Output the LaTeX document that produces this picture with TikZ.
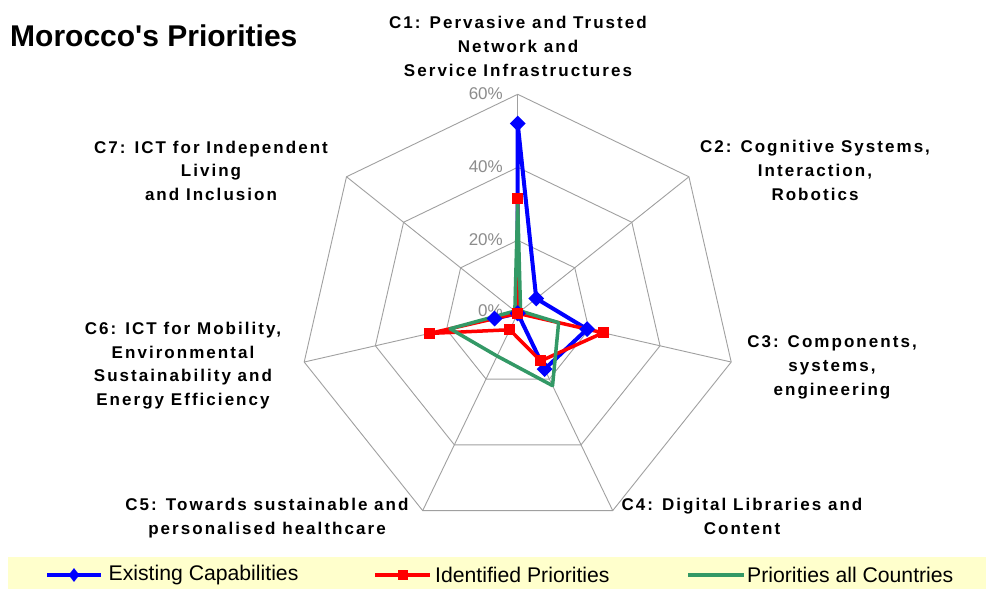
\documentclass[tikz,border=0pt]{standalone}
\usepackage{fontspec}
\setmainfont{Liberation Sans}
\newfontfamily\lblfont[LetterSpace=12]{Liberation Sans}
\usetikzlibrary{shapes.geometric}
\definecolor{serblue}{HTML}{0000FF}
\definecolor{serred}{HTML}{FF0000}
\definecolor{sergreen}{HTML}{339966}
\definecolor{gridgray}{HTML}{A0A0A0}
\definecolor{pctgray}{HTML}{8C8C8C}
\definecolor{legbg}{HTML}{FFFFCC}
\begin{document}
\begin{tikzpicture}[x=1pt,y=-1pt,
  cat/.style={font=\lblfont\bfseries\fontsize{17}{23.7}\selectfont, align=center, anchor=base, inner sep=0pt},
  pct/.style={font=\fontsize{17}{20}\selectfont, text=pctgray, anchor=east, inner sep=0pt},
  gridline/.style={draw=gridgray, line width=0.9pt},
  bluser/.style={draw=serblue, line width=4pt, line join=round},
  redser/.style={draw=serred, line width=3.5pt, line join=round},
  grnser/.style={draw=sergreen, line width=3.5pt, line join=round},
  bmark/.style={diamond, fill=serblue, inner sep=0pt, minimum width=16pt, minimum height=16pt},
  rmark/.style={rectangle, fill=serred, inner sep=0pt, minimum size=11pt},
  legtext/.style={font=\fontsize{21.2}{24}\selectfont, anchor=west, inner sep=0pt}
]
\useasboundingbox (0,0) rectangle (986,589);
\fill[white] (0,0) rectangle (986,589);

% title
\node[anchor=base west, inner sep=0pt, font=\bfseries\fontsize{30}{32}\selectfont] (title) at (10,46) {Morocco\textquotesingle s Priorities};

% grid
\coordinate (ctr) at (517.7,313.3);
\begin{scope}[shift={(517.7,313.3)}]
  \foreach \k in {1,...,7} {
    \coordinate (o\k) at ({90-(\k-1)*360/7}:219pt);
    \coordinate (m\k) at ({90-(\k-1)*360/7}:146pt);
    \coordinate (i\k) at ({90-(\k-1)*360/7}:73pt);
  }
  \foreach \v [count=\k] in {52,6.5,19.5,17,0,6.5,0}
    \coordinate (b\k) at ({90-(\k-1)*360/7}:{\v*3.65pt});
  \foreach \v [count=\k] in {31.5,0,24,14.5,5,24.8,0}
    \coordinate (r\k) at ({90-(\k-1)*360/7}:{\v*3.65pt});
  \foreach \v [count=\k] in {30,1,11.5,22,13,19,1}
    \coordinate (g\k) at ({90-(\k-1)*360/7}:{\v*3.65pt});
\end{scope}

\draw[gridline] (o1)--(o2)--(o3)--(o4)--(o5)--(o6)--(o7)--cycle;
\draw[gridline] (m1)--(m2)--(m3)--(m4)--(m5)--(m6)--(m7)--cycle;
\draw[gridline] (i1)--(i2)--(i3)--(i4)--(i5)--(i6)--(i7)--cycle;
\foreach \k in {1,...,7} \draw[gridline] (ctr) -- (o\k);

% percent labels
\node[pct] (p60) at (503,94) {60\%};
\node[pct] (p40) at (503,167) {40\%};
\node[pct] (p20) at (503,240) {20\%};
\node[pct] (p0) at (503,311) {0\%};

% category labels (anchor = baseline of last line)
\node[cat] (l1) at (518,76) {C1: Pervasive and Trusted\\Network and\\Service Infrastructures};
\node[cat] (l2) at (815,200) {C2: Cognitive Systems,\\Interaction,\\Robotics};
\node[cat] (l3) at (832,395) {C3: Components,\\systems,\\engineering};
\node[cat] (l4) at (742,534.5) {C4: Digital Libraries and\\Content};
\node[cat] (l5) at (267,534.5) {C5: Towards sustainable and\\personalised healthcare};
\node[cat] (l6) at (183,405.5) {C6: ICT for Mobility,\\Environmental\\Sustainability and\\Energy Efficiency};
\node[cat] (l7) at (211,200.5) {C7: ICT for Independent\\Living\\and Inclusion};

% series lines
\draw[bluser] (b1)--(b2)--(b3)--(b4)--(b5)--(b6)--(b7)--cycle;
\draw[redser] (r1)--(r2)--(r3)--(r4)--(r5)--(r6)--(r7)--cycle;
\draw[grnser] (g1)--(g2)--(g3)--(g4)--(g5)--(g6)--(g7)--cycle;

% markers
\foreach \k in {1,...,7} \node[bmark] (bm\k) at (b\k) {};
\foreach \k in {1,...,7} \node[rmark] (rm\k) at (r\k) {};

% legend
\fill[legbg] (8,557) rectangle (986,589);
\coordinate (lba) at (47,575);
\coordinate (lbb) at (101,575);
\draw[draw=serblue, line width=3.5pt] (lba) -- (lbb);
\node[diamond, fill=serblue, inner sep=0pt, minimum width=11pt, minimum height=14pt] (lbm) at (74,575) {};
\node[legtext] (lbt) at (108.5,575) {Existing Capabilities};

\coordinate (lra) at (375,575);
\coordinate (lrb) at (430,575);
\draw[draw=serred, line width=3.5pt] (lra) -- (lrb);
\node[rectangle, fill=serred, inner sep=0pt, minimum size=10pt] (lrm) at (402.5,575) {};
\node[legtext] (lrt) at (435,575) {Identified Priorities};

\coordinate (lga) at (688,575);
\coordinate (lgb) at (744,575);
\draw[draw=sergreen, line width=3.5pt] (lga) -- (lgb);
\node[legtext] (lgt) at (747,575) {Priorities all Countries};
\end{tikzpicture}
\end{document}
